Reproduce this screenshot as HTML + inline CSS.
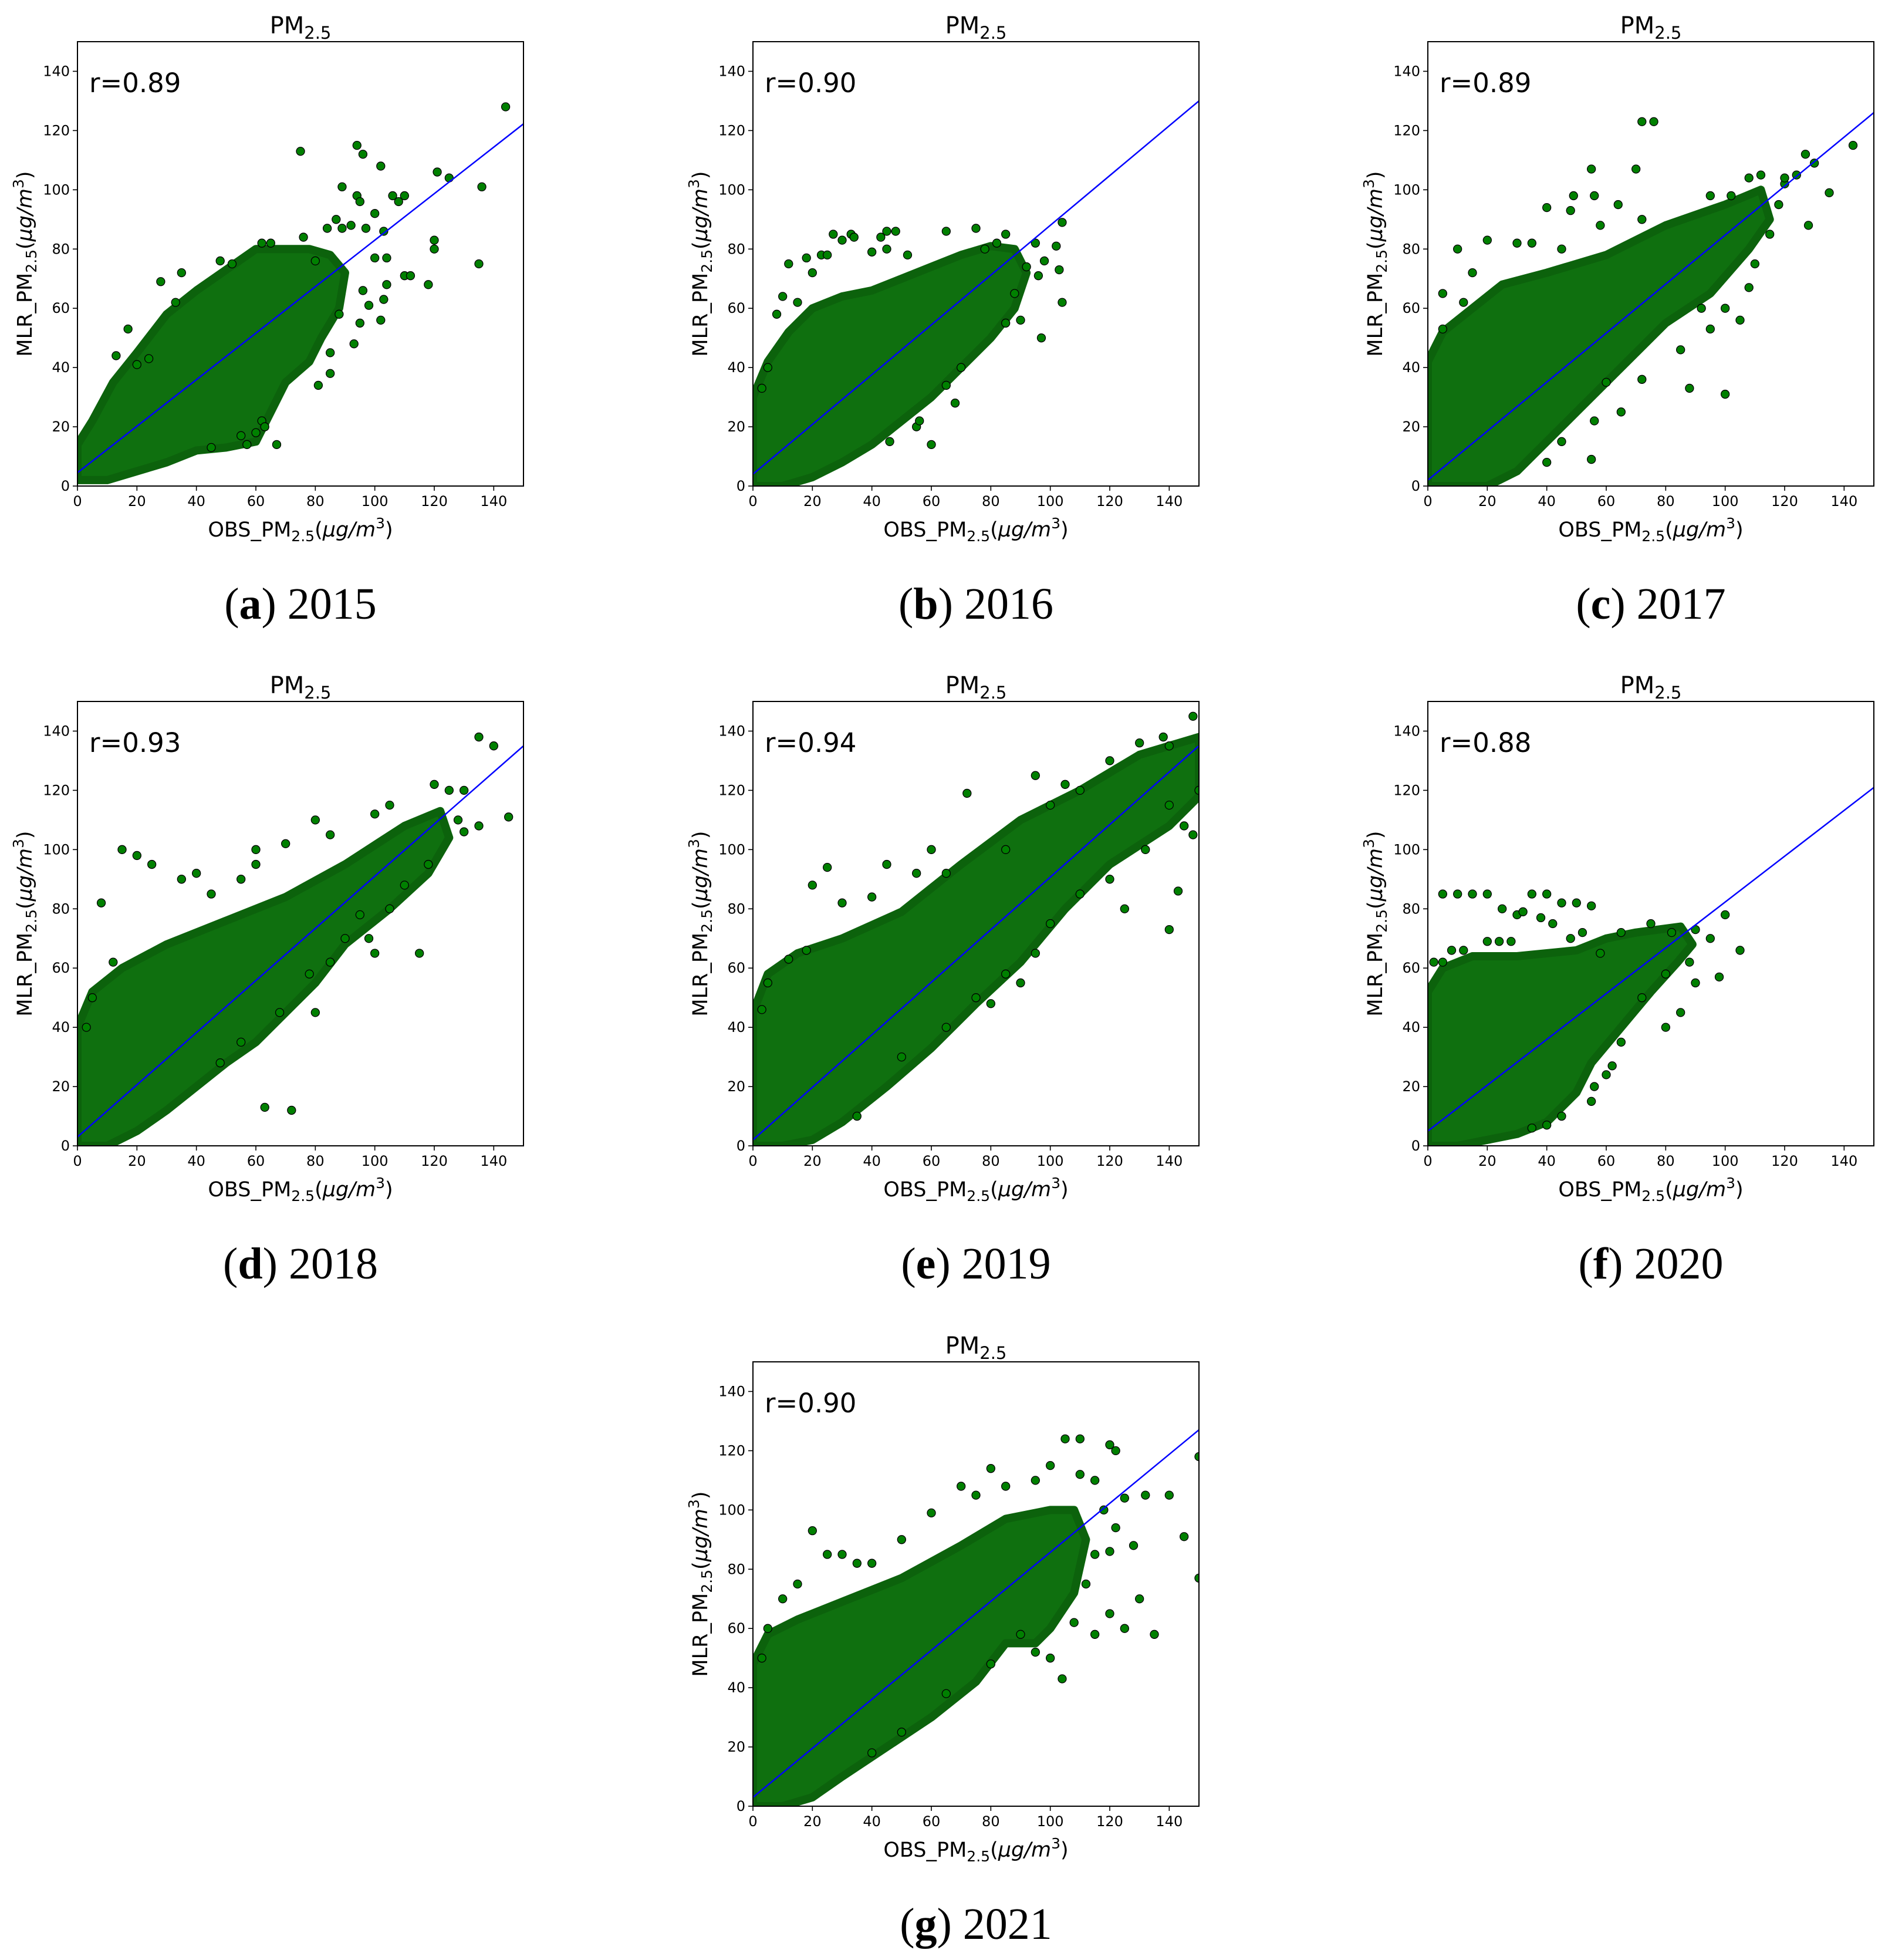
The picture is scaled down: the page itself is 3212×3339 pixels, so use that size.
<!DOCTYPE html>
<html><head><meta charset="utf-8">
<style>
html,body{margin:0;padding:0;background:#fff;}
svg{display:block;}
text{font-family:"DejaVu Sans","Liberation Sans",sans-serif;}
.cap{font-family:"Liberation Serif",serif;}
</style></head>
<body>
<svg id="fig" width="3212" height="3339" viewBox="0 0 3212 3339" xmlns="http://www.w3.org/2000/svg"></svg>
<script>
const years = ["2015","2016","2017","2018","2019","2020","2021"];
const letters = ["a","b","c","d","e","f","g"];
const rValues = ["0.89","0.90","0.89","0.93","0.94","0.88","0.90"];
const intercepts = [4.5,4,2,3,2,5,3];
const slopes = [0.785,0.84,0.827,0.88,0.887,0.773,0.827];
const xTicks = [0,20,40,60,80,100,120,140];
const yTicks = [0,20,40,60,80,100,120,140];
const cloud2015 = [[0,2],[0,14],[5,22],[12,35],[20,45],[30,58],[40,66],[50,73],[60,80],[70,80],[78,80],[85,78],[90,72],[88,60],[82,50],[78,42],[70,35],[65,25],[60,15],[50,13],[40,12],[30,8],[20,5],[10,2]];
const cloud2016 = [[0,0],[0,30],[5,42],[12,52],[20,60],[30,64],[40,66],[50,70],[60,74],[70,78],[80,81],[88,80],[92,72],[88,60],[80,50],[70,40],[60,30],[50,22],[40,14],[30,8],[20,3],[10,0]];
const cloud2017 = [[0,0],[0,42],[5,52],[15,60],[25,68],[40,72],[60,78],[80,88],[100,95],[112,100],[115,90],[108,80],[95,65],[80,55],[65,40],[50,25],[40,15],[30,5],[20,0]];
const cloud2018 = [[0,0],[0,40],[5,52],[15,60],[30,68],[50,76],[70,84],[90,95],[110,108],[122,113],[125,104],[118,92],[105,80],[90,68],[80,55],[70,45],[60,35],[50,28],[40,20],[30,12],[20,5],[10,0]];
const cloud2019 = [[0,0],[0,45],[5,58],[15,65],[30,70],[50,79],[70,95],[90,110],[110,120],[130,132],[150,138],[150,118],[140,108],[120,95],[105,80],[90,62],[75,48],[60,33],[45,20],[30,8],[20,2],[10,0]];
const cloud2020 = [[0,0],[0,52],[5,60],[15,64],[30,64],[50,66],[60,70],[70,72],[85,74],[89,68],[84,62],[75,52],[65,40],[55,28],[50,18],[40,8],[30,4],[20,2],[10,0]];
const cloud2021 = [[0,0],[0,48],[5,58],[15,63],[30,69],[50,77],[70,88],[85,97],[100,100],[108,100],[112,90],[108,72],[100,60],[95,55],[85,55],[75,42],[60,30],[45,20],[30,10],[20,3],[10,0]];
const pts2015 = [[144,128],[75,113],[94,115],[96,112],[102,108],[121,106],[125,104],[136,101],[89,101],[135,75],[120,83],[120,80],[118,68],[110,71],[112,71],[102,56],[103,63],[95,55],[81,34],[85,38],[17,53],[28,69],[35,72],[67,14],[57,14],[94,98],[95,96],[100,92],[106,98],[108,96],[110,98],[92,88],[97,87],[103,86],[104,77],[100,77],[104,68],[96,66],[98,61],[85,45],[62,22],[60,18],[55,17],[63,20],[45,13],[24,43],[13,44],[20,41],[33,62],[48,76],[52,75],[62,82],[65,82],[76,84],[80,76],[87,90],[89,87],[84,87],[88,58],[93,48]];
const pts2016 = [[104,89],[103,73],[104,62],[97,50],[85,85],[75,87],[65,86],[45,80],[27,85],[30,83],[18,77],[12,75],[55,20],[60,14],[46,15],[78,80],[33,85],[34,84],[20,72],[23,78],[25,78],[10,64],[15,62],[8,58],[40,79],[45,86],[48,86],[52,78],[95,82],[98,76],[102,81],[96,71],[92,74],[88,65],[85,55],[90,56],[70,40],[65,34],[68,28],[56,22],[5,40],[3,33],[43,84],[82,82]];
const pts2017 = [[143,115],[135,99],[128,88],[124,105],[112,105],[120,102],[72,123],[76,123],[70,107],[55,107],[100,31],[88,33],[60,35],[10,80],[20,83],[30,82],[40,94],[5,65],[49,98],[48,93],[56,98],[64,95],[72,90],[58,88],[35,82],[45,80],[15,72],[12,62],[5,53],[118,95],[115,85],[110,75],[108,67],[105,56],[100,60],[95,53],[92,60],[85,46],[72,36],[65,25],[56,22],[55,9],[45,15],[40,8],[120,104],[130,109],[127,112],[108,104],[95,98],[102,98]];
const pts2018 = [[145,111],[135,138],[140,135],[130,120],[125,120],[8,82],[15,100],[20,98],[63,13],[72,12],[80,45],[60,95],[55,90],[100,65],[115,65],[98,70],[25,95],[35,90],[40,92],[45,85],[60,100],[70,102],[80,110],[85,105],[100,112],[105,115],[120,122],[128,110],[130,106],[135,108],[118,95],[110,88],[105,80],[95,78],[90,70],[85,62],[78,58],[68,45],[55,35],[48,28],[5,50],[3,40],[12,62]];
const pts2019 = [[148,145],[140,135],[140,73],[143,86],[150,120],[72,119],[25,94],[45,95],[60,100],[125,80],[80,48],[90,55],[20,88],[30,82],[40,84],[55,92],[65,92],[85,100],[95,125],[100,115],[110,120],[120,130],[130,136],[138,138],[145,108],[148,105],[140,115],[132,100],[120,90],[110,85],[100,75],[95,65],[85,58],[75,50],[65,40],[50,30],[35,10],[5,55],[3,46],[12,63],[18,66],[105,122]];
const pts2020 = [[105,66],[100,78],[98,57],[90,55],[85,45],[80,40],[5,85],[10,85],[15,85],[20,85],[35,85],[40,85],[45,82],[50,82],[55,81],[25,80],[30,78],[2,62],[60,24],[55,15],[32,79],[38,77],[42,75],[28,69],[20,69],[24,69],[8,66],[12,66],[5,62],[48,70],[52,72],[58,65],[65,72],[75,75],[82,72],[90,73],[95,70],[88,62],[80,58],[72,50],[65,35],[62,27],[56,20],[45,10],[40,7],[35,6]];
const pts2021 = [[150,118],[150,77],[145,91],[140,105],[135,58],[125,60],[128,88],[120,122],[122,120],[105,124],[110,124],[80,114],[20,93],[60,99],[104,43],[115,58],[130,70],[120,65],[25,85],[30,85],[35,82],[40,82],[50,90],[70,108],[75,105],[85,108],[95,110],[100,115],[110,112],[115,110],[118,100],[125,104],[132,105],[115,85],[112,75],[108,62],[100,50],[95,52],[90,58],[80,48],[65,38],[50,25],[40,18],[10,70],[15,75],[5,60],[3,50],[120,86],[122,94]];
const clouds = [cloud2015,cloud2016,cloud2017,cloud2018,cloud2019,cloud2020,cloud2021];
const points = [pts2015,pts2016,pts2017,pts2018,pts2019,pts2020,pts2021];

const NS = "http://www.w3.org/2000/svg";
const svg = document.getElementById("fig");
const W = 760, H = 757;
const origins = [[132,71],[1283,71],[2433,71],[132,1195],[1283,1195],[2433,1195],[1283,2320]];
function mk(tag, attrs, parent, txt){
  const e = document.createElementNS(NS, tag);
  for (const k in attrs) e.setAttribute(k, attrs[k]);
  if (txt !== undefined) e.textContent = txt;
  parent.appendChild(e);
  return e;
}
function addLabelParts(t, parts){
  for (const p of parts){ mk("tspan", p.a || {}, t, p.s); }
}
for (let i = 0; i < 7; i++){
  const [ox, oy] = origins[i];
  const sx = v => ox + v / 150 * W;
  const sy = v => oy + H - v / 150 * H;
  const g = mk("g", {}, svg);
  
  
  const clipId = "clip" + i;
  const cp = mk("clipPath", {id: clipId}, g);
  mk("rect", {x: ox, y: oy, width: W, height: H}, cp);
  const plot = mk("g", {"clip-path": "url(#" + clipId + ")"}, g);
  const poly = mk("polygon", {points: clouds[i].map(p => sx(p[0]) + "," + sy(p[1])).join(" "), fill: "#0f700f", stroke: "#0c620c", "stroke-width": 14, "stroke-linejoin": "round"}, plot);
  
  
  for (const p of points[i]){
    const c = mk("circle", {cx: sx(p[0]), cy: sy(p[1]), r: 7, fill: "#008000", stroke: "#000", "stroke-width": 1.3}, plot);
    
    
  }
  const ln = mk("line", {x1: sx(0), y1: sy(intercepts[i]), x2: sx(150), y2: sy(intercepts[i] + slopes[i] * 150), stroke: "#0000ff", "stroke-width": 2.5}, plot);
  
  
  const fr = mk("rect", {x: ox, y: oy, width: W, height: H, fill: "none", stroke: "#000", "stroke-width": 2}, g);
  
  
  for (const t of xTicks){
    mk("line", {x1: sx(t), y1: oy + H, x2: sx(t), y2: oy + H + 8, stroke: "#000", "stroke-width": 1.6}, g);
    const tx = mk("text", {x: sx(t), y: oy + H + 34, "font-size": 24, "text-anchor": "middle"}, g, String(t));
    
    
  }
  for (const t of yTicks){
    mk("line", {x1: ox - 8, y1: sy(t), x2: ox, y2: sy(t), stroke: "#000", "stroke-width": 1.6}, g);
    const ty = mk("text", {x: ox - 13, y: sy(t) + 8, "font-size": 24, "text-anchor": "end"}, g, String(t));
    
    
  }
  const title = mk("text", {x: ox + W / 2, y: oy - 14, "font-size": 40, "text-anchor": "middle"}, g);
  
  
  addLabelParts(title, [{s: "PM"}, {s: "2.5", a: {"font-size": 29, dy: 9}}]);
  const r = mk("text", {x: ox + 20, y: oy + 86, "font-size": 45}, g, "r=" + rValues[i]);
  
  
  const xl = mk("text", {x: ox + W / 2, y: oy + H + 86, "font-size": 35, "text-anchor": "middle"}, g);
  
  
  addLabelParts(xl, [{s: "OBS_PM"}, {s: "2.5", a: {"font-size": 25, dy: 8}}, {s: "(", a: {dy: -8}}, {s: "μg/m", a: {"font-style": "italic"}}, {s: "3", a: {"font-size": 25, dy: -14}}, {s: ")", a: {dy: 14}}]);
  const yl = mk("text", {x: 0, y: 0, "font-size": 35, "text-anchor": "middle", transform: "translate(" + (ox - 78) + "," + (oy + H / 2) + ") rotate(-90)"}, g);
  
  
  addLabelParts(yl, [{s: "MLR_PM"}, {s: "2.5", a: {"font-size": 25, dy: 8}}, {s: "(", a: {dy: -8}}, {s: "μg/m", a: {"font-style": "italic"}}, {s: "3", a: {"font-size": 25, dy: -14}}, {s: ")", a: {dy: 14}}]);
  const cap = mk("text", {x: ox + W / 2, y: oy + H + 226, "font-size": 76, "text-anchor": "middle", "class": "cap"}, g);
  
  
  addLabelParts(cap, [{s: "("}, {s: letters[i], a: {"font-weight": "bold"}}, {s: ") " + years[i]}]);
}
</script>
</body></html>
